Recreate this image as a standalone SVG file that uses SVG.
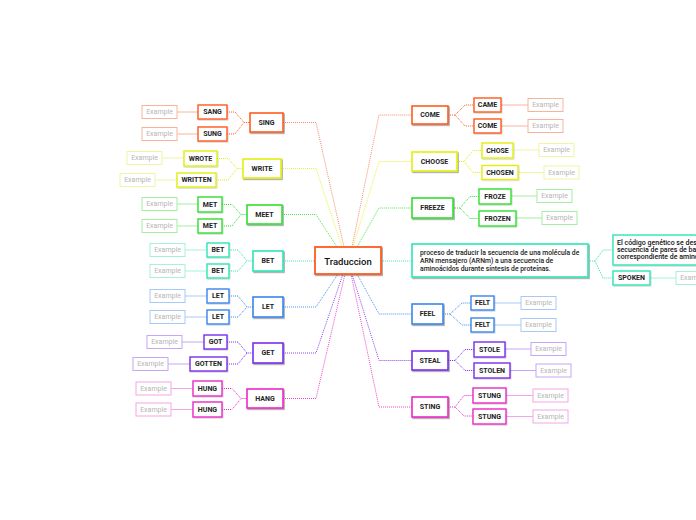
<svg xmlns="http://www.w3.org/2000/svg" width="696" height="520" viewBox="0 0 696 520">
<defs>
<filter id="sh" x="-20%" y="-30%" width="150%" height="180%"><feDropShadow dx="1" dy="1.2" stdDeviation="0.7" flood-color="#000" flood-opacity="0.35"/></filter>
<filter id="sh2" x="-20%" y="-30%" width="150%" height="180%"><feDropShadow dx="0.6" dy="0.8" stdDeviation="0.5" flood-color="#000" flood-opacity="0.2"/></filter>
</defs>
<style>
.n0{fill:#fff;stroke:#ff5a1f;stroke-width:1.8;filter:url(#sh)}
.n1{fill:#fff;stroke-width:1.6;filter:url(#sh)}
.n2{fill:#fff;stroke-width:1.4;filter:url(#sh2)}
.ex{fill:#fff;stroke-width:1}
text{font-family:Roboto,"Liberation Sans",Arial,sans-serif}
.t{font-size:7px;font-weight:bold;fill:#222;text-anchor:middle;dominant-baseline:central}
.te{font-size:7px;fill:#b5b5b5;text-anchor:middle;dominant-baseline:central}
.tc{font-size:9.5px;font-weight:500;fill:#111;text-anchor:middle;dominant-baseline:central}
.td{font-size:6.8px;font-weight:500;fill:#222}
.tk{font-size:7px;font-weight:500;fill:#111}
.dl{fill:none;stroke-width:1;stroke-dasharray:1 1}
.sl{fill:none;stroke-width:1}
.or{stroke:#ff5a1f}.orl{stroke:#f8b49b}.orc{stroke:#f98a6b}
.ye{stroke:#e2ef0a}.yel{stroke:#eff5a3}.yec{stroke:#eaf33a}
.gr{stroke:#2fe02f}.grl{stroke:#a3eea3}.grc{stroke:#4fe24f}
.aq{stroke:#2de6b4}.aql{stroke:#a6f1dc}.aqc{stroke:#45e6be}
.bl{stroke:#3a86ee}.bll{stroke:#a8c9f7}.blc{stroke:#4e90f0}
.pu{stroke:#7a2cee}.pul{stroke:#c6a6f6}.puc{stroke:#8a48ee}
.pk{stroke:#ec29c6}.pkl{stroke:#f5a6e4}.pkc{stroke:#ef45cc}
</style>
<g id="connectors">
<polyline class="dl orc" points="283,122.5 316,122.5 344,247"/>
<polyline class="dl yec" points="281,168.5 316,168.5 342,247"/>
<polyline class="dl grc" points="282,214.5 316,214.5 337,247"/>
<polyline class="dl aqc" points="283,261 315,261"/>
<polyline class="dl blc" points="283,307 316,307 338,274"/>
<polyline class="dl puc" points="283,353 316,353 343,274"/>
<polyline class="dl pkc" points="283,398.5 316,398.5 345,274"/>
<polyline class="dl orc" points="352,247 379,115 412,115"/>
<polyline class="dl yec" points="353,247 379,161.5 412,161.5"/>
<polyline class="dl grc" points="357,247 379,208 412,208"/>
<polyline class="dl aqc" points="381,261 412,261"/>
<polyline class="dl blc" points="357,274 379,314 412,314"/>
<polyline class="dl puc" points="352,274 379,360.5 412,360.5"/>
<polyline class="dl pkc" points="351,274 379,407 412,407"/>
<polyline class="dl or" points="227,112 235,112 244,122.5 250,122.5"/>
<polyline class="dl or" points="227,134 235,134 244,122.5"/>
<polyline class="dl ye" points="217,158.5 228,158.5 237,168.5 243,168.5"/>
<polyline class="dl ye" points="216,180 228,180 237,168.5"/>
<polyline class="dl gr" points="222,204.5 232,204.5 241,214.5 247,214.5"/>
<polyline class="dl gr" points="222,226 232,226 241,214.5"/>
<polyline class="dl aq" points="229,250 238,250 247,261 253,261"/>
<polyline class="dl aq" points="229,271 238,271 247,261"/>
<polyline class="dl bl" points="229,296 238,296 247,307 253,307"/>
<polyline class="dl bl" points="229,317 238,317 247,307"/>
<polyline class="dl pu" points="227,342 238,342 247,353 253,353"/>
<polyline class="dl pu" points="227,364 238,364 247,353"/>
<polyline class="dl pk" points="222,388.5 232,388.5 241,398.5 247,398.5"/>
<polyline class="dl pk" points="222,409.5 232,409.5 241,398.5"/>
<polyline class="dl or" points="448,115 455,115 465,105 474,105"/>
<polyline class="dl or" points="455,115 465,126 474,126"/>
<polyline class="dl ye" points="457,161.5 464,161.5 473,150.5 482,150.5"/>
<polyline class="dl ye" points="464,161.5 473,172.5 482,172.5"/>
<polyline class="dl gr" points="453,208 460,208 470,196.5 479,196.5"/>
<polyline class="dl gr" points="460,208 470,218.5 479,218.5"/>
<polyline class="dl aq" points="588,261 595,261 603,250 613,250"/>
<polyline class="dl aq" points="595,261 603,278 613,278"/>
<polyline class="dl bl" points="443,314 450,314 462,303 471,303"/>
<polyline class="dl bl" points="450,314 462,325 471,325"/>
<polyline class="dl pu" points="448,360.5 455,360.5 465,349.5 474,349.5"/>
<polyline class="dl pu" points="455,360.5 465,370.5 474,370.5"/>
<polyline class="dl pk" points="448,407 455,407 464,395.5 473,395.5"/>
<polyline class="dl pk" points="455,407 464,416 473,416"/>
<line class="sl orl" x1="177" y1="112" x2="198" y2="112"/>
<line class="sl orl" x1="177" y1="134" x2="198" y2="134"/>
<line class="sl yel" x1="162" y1="158" x2="184" y2="158"/>
<line class="sl yel" x1="155" y1="180" x2="177" y2="180"/>
<line class="sl grl" x1="177" y1="204" x2="198" y2="204"/>
<line class="sl grl" x1="177" y1="226" x2="198" y2="226"/>
<line class="sl aql" x1="185" y1="250" x2="207" y2="250"/>
<line class="sl aql" x1="185" y1="271" x2="207" y2="271"/>
<line class="sl bll" x1="185" y1="296" x2="207" y2="296"/>
<line class="sl bll" x1="185" y1="317" x2="207" y2="317"/>
<line class="sl pul" x1="182" y1="342" x2="204" y2="342"/>
<line class="sl pul" x1="168" y1="364" x2="190" y2="364"/>
<line class="sl pkl" x1="171" y1="388.5" x2="193" y2="388.5"/>
<line class="sl pkl" x1="171" y1="409.5" x2="193" y2="409.5"/>
<line class="sl orl" x1="501" y1="105" x2="528" y2="105"/>
<line class="sl orl" x1="501" y1="126" x2="528" y2="126"/>
<line class="sl yel" x1="513" y1="150" x2="539" y2="150"/>
<line class="sl yel" x1="518" y1="172.5" x2="544" y2="172.5"/>
<line class="sl grl" x1="511" y1="196" x2="537" y2="196"/>
<line class="sl grl" x1="516" y1="218" x2="542" y2="218"/>
<line class="sl aql" x1="650" y1="278" x2="676" y2="278"/>
<line class="sl bll" x1="494" y1="303" x2="521" y2="303"/>
<line class="sl bll" x1="494" y1="325" x2="521" y2="325"/>
<line class="sl pul" x1="505" y1="349" x2="531" y2="349"/>
<line class="sl pul" x1="510" y1="370.5" x2="536" y2="370.5"/>
<line class="sl pkl" x1="506" y1="395.5" x2="533" y2="395.5"/>
<line class="sl pkl" x1="506" y1="416.5" x2="533" y2="416.5"/>
</g>
<g id="traduccion"><rect class="n0" x="315" y="247" width="66" height="27"/><text class="tc" x="348" y="261">Traduccion</text></g>
<g id="sing"><rect class="n1 or" x="250" y="113" width="33" height="19"/><text class="t" x="266.5" y="122.5">SING</text></g>
<g id="sang"><rect class="n2 or" x="198" y="105" width="29" height="14"/><text class="t" x="212.5" y="112">SANG</text></g>
<g id="sung"><rect class="n2 or" x="198" y="127" width="29" height="14"/><text class="t" x="212.5" y="134">SUNG</text></g>
<g id="ex-sang"><rect class="ex orl" x="142" y="105.5" width="35" height="13"/><text class="te" x="159.5" y="112">Example</text></g>
<g id="ex-sung"><rect class="ex orl" x="142" y="127.5" width="35" height="13"/><text class="te" x="159.5" y="134">Example</text></g>
<g id="write"><rect class="n1 ye" x="243" y="159" width="38" height="19"/><text class="t" x="262" y="168.5">WRITE</text></g>
<g id="wrote"><rect class="n2 ye" x="184" y="151" width="33" height="15"/><text class="t" x="200.5" y="158.5">WROTE</text></g>
<g id="written"><rect class="n2 ye" x="177" y="173" width="39" height="14"/><text class="t" x="196.5" y="180">WRITTEN</text></g>
<g id="ex-wrote"><rect class="ex yel" x="127" y="151.5" width="35" height="13"/><text class="te" x="144.5" y="158">Example</text></g>
<g id="ex-written"><rect class="ex yel" x="120" y="173.5" width="35" height="13"/><text class="te" x="137.5" y="180">Example</text></g>
<g id="meet"><rect class="n1 gr" x="247" y="205" width="35" height="19"/><text class="t" x="264.5" y="214.5">MEET</text></g>
<g id="met1"><rect class="n2 gr" x="198" y="197" width="24" height="15"/><text class="t" x="210" y="204.5">MET</text></g>
<g id="met2"><rect class="n2 gr" x="198" y="219" width="24" height="14"/><text class="t" x="210" y="226">MET</text></g>
<g id="ex-met1"><rect class="ex grl" x="142" y="197.5" width="35" height="13"/><text class="te" x="159.5" y="204">Example</text></g>
<g id="ex-met2"><rect class="ex grl" x="142" y="219.5" width="35" height="13"/><text class="te" x="159.5" y="226">Example</text></g>
<g id="bet"><rect class="n1 aq" x="253" y="251" width="30" height="20"/><text class="t" x="268" y="261">BET</text></g>
<g id="bet1"><rect class="n2 aq" x="207" y="243" width="22" height="14"/><text class="t" x="218" y="250">BET</text></g>
<g id="bet2"><rect class="n2 aq" x="207" y="264" width="22" height="14"/><text class="t" x="218" y="271">BET</text></g>
<g id="ex-bet1"><rect class="ex aql" x="150" y="243.5" width="35" height="13"/><text class="te" x="167.5" y="250">Example</text></g>
<g id="ex-bet2"><rect class="ex aql" x="150" y="264.5" width="35" height="13"/><text class="te" x="167.5" y="271">Example</text></g>
<g id="let"><rect class="n1 bl" x="253" y="297" width="30" height="20"/><text class="t" x="268" y="307">LET</text></g>
<g id="let1"><rect class="n2 bl" x="207" y="289" width="22" height="14"/><text class="t" x="218" y="296">LET</text></g>
<g id="let2"><rect class="n2 bl" x="207" y="310" width="22" height="14"/><text class="t" x="218" y="317">LET</text></g>
<g id="ex-let1"><rect class="ex bll" x="150" y="289.5" width="35" height="13"/><text class="te" x="167.5" y="296">Example</text></g>
<g id="ex-let2"><rect class="ex bll" x="150" y="310.5" width="35" height="13"/><text class="te" x="167.5" y="317">Example</text></g>
<g id="get"><rect class="n1 pu" x="253" y="343" width="30" height="20"/><text class="t" x="268" y="353">GET</text></g>
<g id="got"><rect class="n2 pu" x="204" y="335" width="23" height="14"/><text class="t" x="215.5" y="342">GOT</text></g>
<g id="gotten"><rect class="n2 pu" x="190" y="357" width="37" height="14"/><text class="t" x="208.5" y="364">GOTTEN</text></g>
<g id="ex-got"><rect class="ex pul" x="147" y="335.5" width="35" height="13"/><text class="te" x="164.5" y="342">Example</text></g>
<g id="ex-gotten"><rect class="ex pul" x="133" y="357.5" width="35" height="13"/><text class="te" x="150.5" y="364">Example</text></g>
<g id="hang"><rect class="n1 pk" x="247" y="389" width="36" height="19"/><text class="t" x="265" y="398.5">HANG</text></g>
<g id="hung1"><rect class="n2 pk" x="193" y="381" width="29" height="15"/><text class="t" x="207.5" y="388.5">HUNG</text></g>
<g id="hung2"><rect class="n2 pk" x="193" y="402" width="29" height="15"/><text class="t" x="207.5" y="409.5">HUNG</text></g>
<g id="ex-hung1"><rect class="ex pkl" x="136" y="382" width="35" height="13"/><text class="te" x="153.5" y="388.5">Example</text></g>
<g id="ex-hung2"><rect class="ex pkl" x="136" y="403" width="35" height="13"/><text class="te" x="153.5" y="409.5">Example</text></g>
<g id="come"><rect class="n1 or" x="412" y="106" width="36" height="18"/><text class="t" x="430" y="115">COME</text></g>
<g id="came"><rect class="n2 or" x="474" y="98" width="27" height="14"/><text class="t" x="487.5" y="105">CAME</text></g>
<g id="come2"><rect class="n2 or" x="474" y="119" width="27" height="14"/><text class="t" x="487.5" y="126">COME</text></g>
<g id="ex-came"><rect class="ex orl" x="528" y="98.5" width="35" height="13"/><text class="te" x="545.5" y="105">Example</text></g>
<g id="ex-come2"><rect class="ex orl" x="528" y="119.5" width="35" height="13"/><text class="te" x="545.5" y="126">Example</text></g>
<g id="choose"><rect class="n1 ye" x="412" y="152" width="45" height="19"/><text class="t" x="434.5" y="161.5">CHOOSE</text></g>
<g id="chose"><rect class="n2 ye" x="482" y="143" width="31" height="15"/><text class="t" x="497.5" y="150.5">CHOSE</text></g>
<g id="chosen"><rect class="n2 ye" x="482" y="165.5" width="36" height="14"/><text class="t" x="500" y="172.5">CHOSEN</text></g>
<g id="ex-chose"><rect class="ex yel" x="539" y="143.5" width="35" height="13"/><text class="te" x="556.5" y="150">Example</text></g>
<g id="ex-chosen"><rect class="ex yel" x="544" y="166" width="35" height="13"/><text class="te" x="561.5" y="172.5">Example</text></g>
<g id="freeze"><rect class="n1 gr" x="412" y="198" width="41" height="20"/><text class="t" x="432.5" y="208">FREEZE</text></g>
<g id="froze"><rect class="n2 gr" x="479" y="189" width="32" height="15"/><text class="t" x="495" y="196.5">FROZE</text></g>
<g id="frozen"><rect class="n2 gr" x="479" y="211" width="37" height="15"/><text class="t" x="497.5" y="218.5">FROZEN</text></g>
<g id="ex-froze"><rect class="ex grl" x="537" y="189.5" width="35" height="13"/><text class="te" x="554.5" y="196">Example</text></g>
<g id="ex-frozen"><rect class="ex grl" x="542" y="211.5" width="35" height="13"/><text class="te" x="559.5" y="218">Example</text></g>
<g id="definicion"><rect class="n1 aq" x="412" y="244" width="176" height="33"/>
<text class="td" x="420" y="254.5">proceso de traducir la secuencia de una molécula de</text>
<text class="td" x="420" y="262.5">ARN mensajero (ARNm) a una secuencia de</text>
<text class="td" x="420" y="270.5">aminoácidos durante síntesis de proteínas.</text></g>
<g id="codigo"><rect class="n2 aq" x="613" y="235" width="100" height="30"/>
<text class="tk" x="617" y="244.5">El código genético se desc</text>
<text class="tk" x="617" y="251.5">secuencia de pares de bas</text>
<text class="tk" x="617" y="258.5">correspondiente de amino</text></g>
<g id="spoken"><rect class="n2 aq" x="613" y="271" width="37" height="14"/><text class="t" x="631.5" y="278">SPOKEN</text></g>
<g id="ex-spoken"><rect class="ex aql" x="676" y="271.5" width="35" height="13"/><text class="te" x="693.5" y="278">Example</text></g>
<g id="feel"><rect class="n1 bl" x="412" y="304" width="31" height="20"/><text class="t" x="427.5" y="314">FEEL</text></g>
<g id="felt1"><rect class="n2 bl" x="471" y="296" width="23" height="14"/><text class="t" x="482.5" y="303">FELT</text></g>
<g id="felt2"><rect class="n2 bl" x="471" y="318" width="23" height="14"/><text class="t" x="482.5" y="325">FELT</text></g>
<g id="ex-felt1"><rect class="ex bll" x="521" y="296.5" width="35" height="13"/><text class="te" x="538.5" y="303">Example</text></g>
<g id="ex-felt2"><rect class="ex bll" x="521" y="318.5" width="35" height="13"/><text class="te" x="538.5" y="325">Example</text></g>
<g id="steal"><rect class="n1 pu" x="412" y="351" width="36" height="19"/><text class="t" x="430" y="360.5">STEAL</text></g>
<g id="stole"><rect class="n2 pu" x="474" y="342" width="31" height="15"/><text class="t" x="489.5" y="349.5">STOLE</text></g>
<g id="stolen"><rect class="n2 pu" x="474" y="363" width="36" height="15"/><text class="t" x="492" y="370.5">STOLEN</text></g>
<g id="ex-stole"><rect class="ex pul" x="531" y="342.5" width="35" height="13"/><text class="te" x="548.5" y="349">Example</text></g>
<g id="ex-stolen"><rect class="ex pul" x="536" y="364" width="35" height="13"/><text class="te" x="553.5" y="370.5">Example</text></g>
<g id="sting"><rect class="n1 pk" x="412" y="397" width="36" height="20"/><text class="t" x="430" y="407">STING</text></g>
<g id="stung1"><rect class="n2 pk" x="473" y="388" width="33" height="15"/><text class="t" x="489.5" y="395.5">STUNG</text></g>
<g id="stung2"><rect class="n2 pk" x="473" y="409" width="33" height="15"/><text class="t" x="489.5" y="416.5">STUNG</text></g>
<g id="ex-stung1"><rect class="ex pkl" x="533" y="389" width="35" height="13"/><text class="te" x="550.5" y="395.5">Example</text></g>
<g id="ex-stung2"><rect class="ex pkl" x="533" y="410" width="35" height="13"/><text class="te" x="550.5" y="416.5">Example</text></g>
</svg>
